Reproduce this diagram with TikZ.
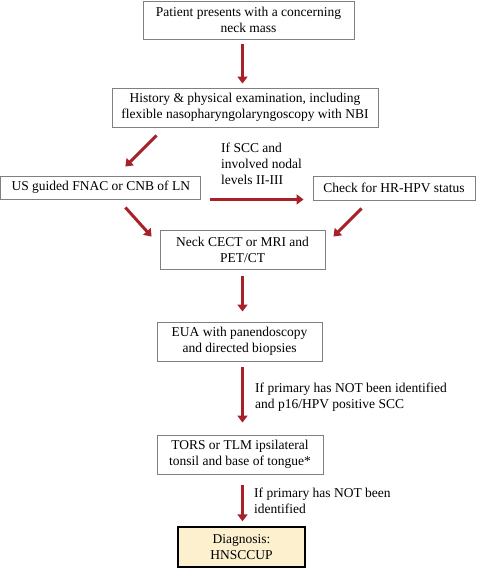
\documentclass[tikz,border=0pt]{standalone}
\usepackage{fontspec}
\setmainfont{Liberation Serif}
\usetikzlibrary{arrows.meta,calc}
\definecolor{arrowred}{HTML}{A82128}
\definecolor{boxgrey}{HTML}{808080}
\definecolor{diagfill}{HTML}{FCF0CF}
\begin{document}
\begin{tikzpicture}[x=1pt,y=-1pt,
  box/.style={draw=boxgrey,line width=0.9pt,inner sep=0pt,align=center,font=\fontsize{13.5}{16}\selectfont},
  lbl/.style={inner sep=0pt,align=left,font=\fontsize{13.5}{16}\selectfont,anchor=north west},
  flow/.style={draw=arrowred,line width=3pt,-{Triangle[length=7pt,width=10pt]}}]
\useasboundingbox (0,0) rectangle (476,569);
\node[box,minimum width=211pt,minimum height=38pt] (b1) at (248.5,20) {Patient presents with a concerning\\neck mass};
\node[box,minimum width=266pt,minimum height=39pt] (b2) at (245,107.5) {History \& physical examination, including\\flexible nasopharyngolaryngoscopy with NBI};
\node[box,minimum width=200pt,minimum height=23pt] (b3) at (100.8,187.5) {US guided FNAC or CNB of LN};
\node[box,minimum width=162pt,minimum height=24pt] (b4) at (394,188) {Check for HR-HPV status};
\node[box,minimum width=165pt,minimum height=39pt] (b5) at (242.5,249.5) {Neck CECT or MRI and\\PET/CT};
\node[box,minimum width=165pt,minimum height=39pt] (b6) at (239.5,341.5) {EUA with panendoscopy\\and directed biopsies};
\node[box,minimum width=166pt,minimum height=39pt] (b7) at (240,454.5) {TORS or TLM ipsilateral\\tonsil and base of tongue*};
\node[box,draw=black,line width=1.3pt,fill=diagfill,minimum width=127pt,minimum height=40pt] (b8) at (241.5,547) {Diagnosis:\\HNSCCUP};
\node[lbl] (l1) at (221,143) {If SCC and\\involved nodal\\levels II-III};
\node[lbl] (l2) at (255,383) {If primary has NOT been identified\\and p16/HPV positive SCC};
\node[lbl] (l3) at (254,488) {If primary has NOT been\\identified};
% connector end points
\coordinate (a2s) at ($(b2.south west)+(45,8)$);
\coordinate (a2e) at ($(b3.north west)+(125,-9)$);
\coordinate (a3s) at ($(b3.south west)+(125,8)$);
\coordinate (a3e) at ($(b5.north west)+(-8,7)$);
\coordinate (a4s) at ($(b4.south west)+(49,8)$);
\coordinate (a4e) at ($(b5.north east)+(8,7)$);
\coordinate (hs) at ($(b3.south east)+(9,0)$);
\coordinate (he) at ($(b4.south west)+(-9,-1)$);
\draw[flow] ($(b1.south -| b5)+(0,5)$) -- ($(b2.north -| b5)+(0,-4)$);
\draw[flow] (a2s) -- (a2e);
\draw[flow] (hs) -- (he);
\draw[flow] (a3s) -- (a3e);
\draw[flow] (a4s) -- (a4e);
\draw[flow] ($(b5.south)+(0,7)$) -- ($(b6.north -| b5)+(0,-10)$);
\draw[flow] ($(b6.south -| b5)+(0,6)$) -- ($(b7.north -| b5)+(0,-12)$);
\draw[flow] ($(b7.south -| b5)+(0,11)$) -- ($(b8.north -| b5)+(0,-5)$);
\end{tikzpicture}
\end{document}
